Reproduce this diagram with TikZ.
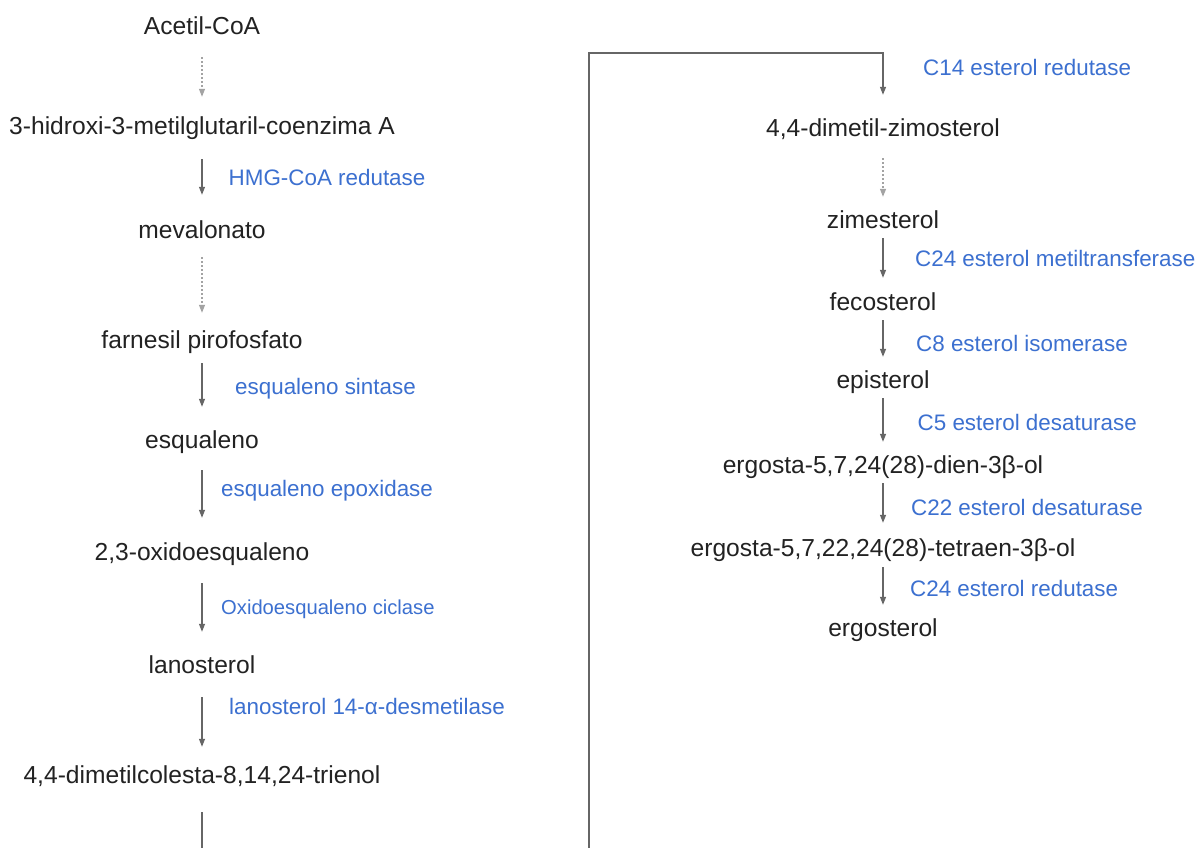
\documentclass[tikz,border=0pt]{standalone}
\usepackage{fontspec}
\setmainfont{Liberation Sans}
\usetikzlibrary{arrows.meta}
\definecolor{enz}{HTML}{3C70D0}
\definecolor{txt}{HTML}{222222}
\definecolor{ln}{HTML}{666666}
\tikzset{
  mol/.style={anchor=base, inner sep=0pt, text height=18pt, text depth=5pt, text=txt, font=\fontsize{24.6}{28}\selectfont},
  enzyme/.style={anchor=base west, inner sep=0pt, text=enz, font=\fontsize{22.4}{26}\selectfont},
  smallenzyme/.style={anchor=base west, inner sep=0pt, text=enz, font=\fontsize{20.2}{24}\selectfont},
  arr/.style={draw=ln, line width=1.2pt, -{Triangle[length=8pt,width=6pt]}},
  dots/.style={arr, draw=ln!60, dash pattern=on 2pt off 2pt},
  gap/.style 2 args={shorten <=#1pt, shorten >=#2pt}
}
\begin{document}
\begin{tikzpicture}[x=1pt,y=-1pt]
\useasboundingbox[fill=white] (0,0) rectangle (1199,848);
\begin{scope}
\clip (0,0) rectangle (1199,848);
% left column
\node[mol] (acetil) at (202,35) {Acetil-CoA};
\node[mol] (hmg) at (202,135) {3-hidroxi-3-metilglutaril-coenzima A};
\node[mol] (meval) at (202,238) {mevalonato};
\node[mol] (farn) at (202,348) {farnesil pirofosfato};
\node[mol] (esq) at (202,448) {esqualeno};
\node[mol] (oxido) at (202,560) {2,3-oxidoesqualeno};
\node[mol] (lano) at (202,673) {lanosterol};
\node[mol] (trienol) at (202,783) {4,4-dimetilcolesta-8,14,24-trienol};
% right column
\node[mol] (dimzimo) at (883,136) {4,4-dimetil-zimosterol};
\node[mol] (zimest) at (883,228) {zimesterol};
\node[mol] (fecost) at (883,310) {fecosterol};
\node[mol] (epist) at (883,388) {episterol};
\node[mol] (dien) at (883,473) {ergosta-5,7,24(28)-dien-3β-ol};
\node[mol] (tetraen) at (883,556) {ergosta-5,7,22,24(28)-tetraen-3β-ol};
\node[mol] (ergost) at (883,636) {ergosterol};
% enzymes
\node[enzyme] (e1) at (228.5,185) {HMG-CoA redutase};
\node[enzyme] (e2) at (235,394) {esqualeno sintase};
\node[enzyme] (e3) at (221,496) {esqualeno epoxidase};
\node[smallenzyme] (e4) at (221,614) {Oxidoesqualeno ciclase};
\node[enzyme] (e5) at (229,714) {lanosterol 14-α-desmetilase};
\node[enzyme] (e6) at (923,76) {C14 esterol redutase};
\node[enzyme] (e7) at (915,266) {C24 esterol metiltransferase};
\node[enzyme] (e8) at (916,351) {C8 esterol isomerase};
\node[enzyme] (e9) at (917.5,430) {C5 esterol desaturase};
\node[enzyme] (e10) at (911,515) {C22 esterol desaturase};
\node[enzyme] (e11) at (910,596) {C24 esterol redutase};
% connectors left
\draw[dots, gap={17}{20}] (acetil.south) -- (hmg.north);
\draw[arr, gap={19}{25}] (hmg.south) -- (meval.north);
\draw[dots, gap={14}{17}] (meval.south) -- (farn.north);
\draw[arr, gap={10}{23}] (farn.south) -- (esq.north);
\draw[arr, gap={17}{24}] (esq.south) -- (oxido.north);
\draw[arr, gap={18}{23}] (oxido.south) -- (lano.north);
\draw[arr, gap={19}{18}] (lano.south) -- (trienol.north);
% long connector
\coordinate (b1) at (202,900);
\coordinate (b2) at (589,900);
\coordinate (t1) at (589,53);
\coordinate (t2) at (883,53);
\draw[arr, gap={24}{23}] (trienol.south) -- (b1) -- (b2) -- (t1) -- (t2) -- (dimzimo.north);
% connectors right
\draw[dots, gap={17}{13}] (dimzimo.south) -- (zimest.north);
\draw[arr, gap={5}{14}] (zimest.south) -- (fecost.north);
\draw[arr, gap={5}{13}] (fecost.south) -- (epist.north);
\draw[arr, gap={5}{13}] (epist.south) -- (dien.north);
\draw[arr, gap={5}{15}] (dien.south) -- (tetraen.north);
\draw[arr, gap={6}{13}] (tetraen.south) -- (ergost.north);
\end{scope}
\end{tikzpicture}
\end{document}
